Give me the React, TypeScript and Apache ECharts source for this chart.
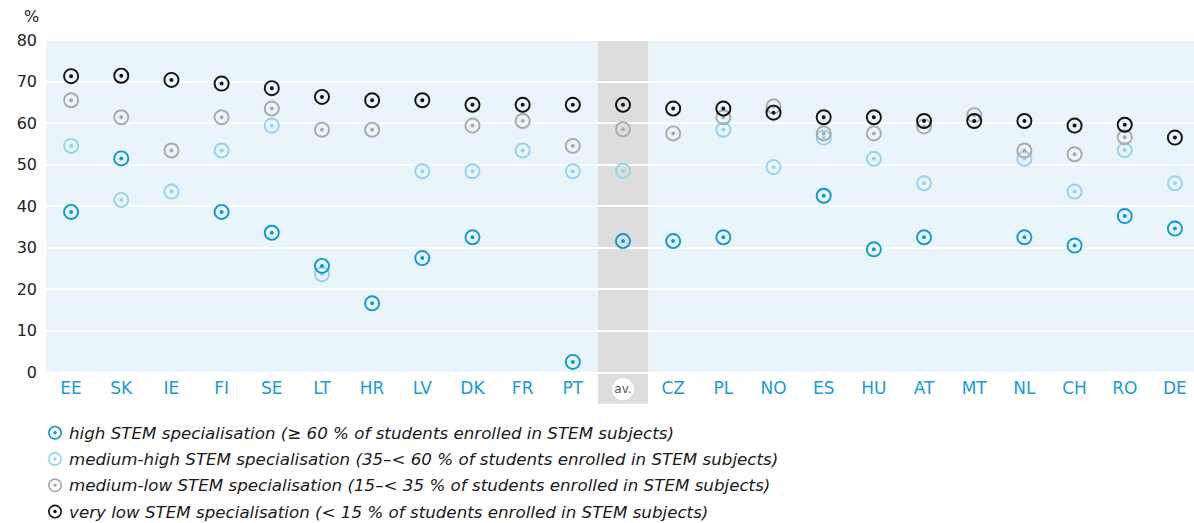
import React, { useEffect, useRef } from "react";
import * as echarts from "echarts";

const categories = ["EE", "SK", "IE", "FI", "SE", "LT", "HR", "LV", "DK", "FR", "PT", "av.", "CZ", "PL", "NO", "ES", "HU", "AT", "MT", "NL", "CH", "RO", "DE"];
const high = [38.6, 51.5, null, 38.6, 33.6, 25.6, 16.6, 27.5, 32.5, null, 2.5, 31.6, 31.6, 32.5, null, 42.5, 29.6, 32.5, null, 32.5, 30.5, 37.6, 34.6];
const mediumHigh = [54.5, 41.5, 43.5, 53.4, 59.4, 23.6, null, 48.4, 48.4, 53.4, 48.4, 48.5, null, 58.4, 49.4, 56.5, 51.4, 45.5, null, 51.4, 43.5, 53.5, 45.5];
const mediumLow = [65.5, 61.4, 53.4, 61.4, 63.5, 58.4, 58.4, null, 59.4, 60.5, 54.5, 58.5, 57.5, 61.4, 64.0, 57.5, 57.5, 59.2, 61.9, 53.4, 52.5, 56.6, null];
const veryLow = [71.3, 71.4, 70.4, 69.5, 68.4, 66.3, 65.5, 65.5, 64.4, 64.4, 64.4, 64.4, 63.5, 63.5, 62.5, 61.4, 61.4, 60.5, 60.5, 60.5, 59.4, 59.6, 56.5];
const yTicks = [0, 10, 20, 30, 40, 50, 60, 70, 80];

const seriesNames = [
  "high STEM specialisation (≥ 60 % of students enrolled in STEM subjects)",
  "medium-high STEM specialisation (35–< 60 % of students enrolled in STEM subjects)",
  "medium-low STEM specialisation (15–< 35 % of students enrolled in STEM subjects)",
  "very low STEM specialisation (< 15 % of students enrolled in STEM subjects)",
];
const seriesColors = ["#0a9ad6", "#92d3f1", "#aaaaaa", "#111111"];
const seriesData = [high, mediumHigh, mediumLow, veryLow];
const drawOrder = [1, 2, 0, 3];

const RING =
  "path://M8,0A8,8,0,1,1,-8,0A8,8,0,1,1,8,0ZM6.1,0A6.1,6.1,0,1,0,-6.1,0A6.1,6.1,0,1,0,6.1,0ZM2,0A2,2,0,1,1,-2,0A2,2,0,1,1,2,0Z";

const FONT = "DejaVu Sans";

export default function App() {
  const ref = useRef<HTMLDivElement>(null);
  useEffect(() => {
    if (!ref.current) return;
    const chart = echarts.init(ref.current, null, { renderer: "svg" });
    const option: any = {
      animation: false,
      grid: { left: 46, right: 0, top: 40, bottom: 150.7, containLabel: false },
      xAxis: {
        type: "category",
        data: categories,
        boundaryGap: true,
        axisLine: { show: false },
        axisTick: { show: false },
        splitLine: { show: false },
        axisLabel: {
          interval: 0,
          margin: 6,
          formatter: (v: string) => (v === "av." ? "{av|av.}" : "{c|" + v + "}"),
          rich: {
            c: { color: "#1a9bd7", fontSize: 17, fontFamily: FONT, lineHeight: 19 },
            av: {
              color: "#555555",
              fontSize: 12,
              fontFamily: FONT,
              backgroundColor: "#ffffff",
              borderRadius: 11,
              width: 22,
              height: 22,
              lineHeight: 22,
              align: "center",
            },
          },
        },
      },
      yAxis: {
        type: "value",
        min: yTicks[0],
        max: yTicks[yTicks.length - 1],
        interval: 10,
        axisLine: { show: false },
        axisTick: { show: false },
        axisLabel: { color: "#222222", fontSize: 16, fontFamily: FONT, margin: 9 },
        splitLine: { show: true, lineStyle: { color: "#ffffff", width: 2 } },
      },
      legend: {
        orient: "vertical",
        left: 48,
        top: 423.7,
        padding: 0,
        itemWidth: 14,
        itemHeight: 14,
        itemGap: 8.3,
        data: seriesNames.map((n, i) => ({ name: n, icon: RING, itemStyle: { color: seriesColors[i] } })),
        textStyle: {
          fontFamily: FONT,
          fontStyle: "italic",
          fontSize: 16.7,
          lineHeight: 18,
          color: "#1a1a1a",
          padding: [0, 0, 0, 2],
        },
        selectedMode: false,
      },
      series: drawOrder.map((i) => ({
        type: "scatter",
        name: seriesNames[i],
        data: seriesData[i],
        symbol: RING,
        symbolSize: 16,
        itemStyle: { color: seriesColors[i], opacity: 1 },
        emphasis: { disabled: true },
      })),
    };
    chart.setOption(option);

    const bx0 = chart.convertToPixel({ xAxisIndex: 0 }, categories[0]) as number;
    const bx1 = chart.convertToPixel({ xAxisIndex: 0 }, categories[1]) as number;
    const bw = bx1 - bx0;
    const avX = chart.convertToPixel({ xAxisIndex: 0 }, "av.") as number;
    const yTop = chart.convertToPixel({ yAxisIndex: 0 }, yTicks[yTicks.length - 1]) as number;
    const yBot = chart.convertToPixel({ yAxisIndex: 0 }, yTicks[0]) as number;

    chart.setOption({
      graphic: {
        elements: [
          {
            type: "rect",
            z: -2,
            silent: true,
            shape: { x: bx0 - bw / 2, y: yTop, width: bw * categories.length, height: yBot - yTop },
            style: { fill: "#e9f4fb" },
          },
          {
            type: "rect",
            z: -1,
            silent: true,
            shape: { x: avX - bw / 2, y: yTop, width: bw, height: yBot - yTop + 31.5 },
            style: { fill: "#dddddd" },
          },
          {
            type: "text",
            z: 1,
            left: 24,
            top: 8,
            style: { text: "%", fill: "#222222", font: `16px '${FONT}'` },
          },
        ],
      },
    });

    return () => chart.dispose();
  }, []);

  return (
    <div style={{ position: "fixed", left: 0, top: 0, width: 1194, height: 523, overflow: "hidden", background: "#fff" }}>
      <div ref={ref} style={{ width: 1200, height: 523 }} />
    </div>
  );
}
